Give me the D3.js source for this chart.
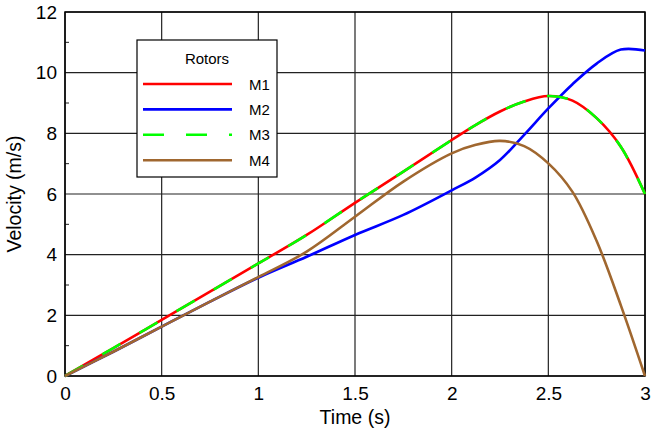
<!DOCTYPE html>
<html>
<head>
<meta charset="utf-8">
<script src="https://cdn.jsdelivr.net/npm/d3@7"></script>
<style>
  body { margin: 0; background: #fff; }
  text { font-family: Arial, "Liberation Sans", sans-serif; }
</style>
</head>
<body>
<script>
// time points (s)
const time = [0, 0.25, 0.5, 0.75, 1, 1.25, 1.5, 1.75, 2, 2.125, 2.25, 2.375, 2.5, 2.625, 2.75, 2.875, 3];

// velocity per rotor (m/s)
const m1 = [0, 0.92, 1.85, 2.78, 3.71, 4.65, 5.71, 6.74, 7.78, 8.28, 8.72, 9.05, 9.23, 9.08, 8.50, 7.56, 6.0];
const m2 = [0, 0.80, 1.63, 2.45, 3.24, 3.93, 4.65, 5.31, 6.12, 6.55, 7.12, 7.95, 8.82, 9.62, 10.3, 10.76, 10.73];
const m3 = m1.slice(); // same values as M1, drawn dashed on top
const m4 = [0, 0.80, 1.63, 2.45, 3.26, 4.10, 5.25, 6.41, 7.34, 7.62, 7.75, 7.58, 7.01, 6.07, 4.45, 2.33, 0];

const seriesNames = ["M1", "M2", "M3", "M4"];
const colors = ["#ff0000", "#0000ff", "#00ff00", "#a0672f"];

const xTicks = [0, 0.5, 1, 1.5, 2, 2.5, 3];
const yTicks = [0, 2, 4, 6, 8, 10, 12];
const yMinor = [1, 3, 5, 7, 9, 11];

const margin = { top: 12, right: 6, bottom: 56, left: 65 };
const width = 651 - margin.left - margin.right;
const height = 432 - margin.top - margin.bottom;

const xScale = d3.scaleLinear().domain([0, 3]).range([0, width]);
const yScale = d3.scaleLinear().domain([0, 12]).range([height, 0]);

const svg = d3.select("body")
  .append("svg")
    .attr("width", 651)
    .attr("height", 432)
  .append("g")
    .attr("transform", `translate(${margin.left}, ${margin.top})`);

// grid
svg.append("g")
  .selectAll("line")
  .data(xTicks)
  .enter().append("line")
    .attr("x1", d => xScale(d)).attr("x2", d => xScale(d))
    .attr("y1", 0).attr("y2", height)
    .attr("stroke", "#222").attr("stroke-width", 1.2);

svg.append("g")
  .selectAll("line")
  .data(yTicks)
  .enter().append("line")
    .attr("x1", 0).attr("x2", width)
    .attr("y1", d => yScale(d)).attr("y2", d => yScale(d))
    .attr("stroke", "#222").attr("stroke-width", 1.2);

// minor ticks on y axis
svg.append("g")
  .selectAll("line")
  .data(yMinor)
  .enter().append("line")
    .attr("x1", 0).attr("x2", 4)
    .attr("y1", d => yScale(d)).attr("y2", d => yScale(d))
    .attr("stroke", "#222").attr("stroke-width", 1);

// axes labels (no domain lines, frame drawn below)
const xAxis = svg.append("g")
  .attr("transform", `translate(0, ${height})`)
  .call(d3.axisBottom(xScale).tickValues(xTicks).tickSize(0).tickPadding(11).tickFormat(d3.format("")));
const yAxis = svg.append("g")
  .call(d3.axisLeft(yScale).tickValues(yTicks).tickSize(0).tickPadding(8));
[xAxis, yAxis].forEach(a => {
  a.select(".domain").remove();
  a.selectAll("text").attr("font-size", 19).attr("fill", "#000")
    .attr("font-family", "Arial, 'Liberation Sans', sans-serif");
});

// frame
svg.append("rect")
  .attr("width", width).attr("height", height)
  .attr("fill", "none").attr("stroke", "#000").attr("stroke-width", 1.5);

// lines
const line = d3.line()
  .x((d, i) => xScale(time[i]))
  .y(d => yScale(d))
  .curve(d3.curveCatmullRom.alpha(0.5));

const allSeries = [m1, m2, m3, m4];
allSeries.forEach((s, k) => {
  svg.append("path")
    .datum(s)
    .attr("fill", "none")
    .attr("stroke", colors[k])
    .attr("stroke-width", 2.6)
    .attr("stroke-dasharray", k === 2 ? "21,22" : null)
    .attr("d", line);
});

// axis titles
svg.append("text")
  .attr("x", width / 2).attr("y", height + 48)
  .attr("text-anchor", "middle").attr("font-size", 19.5)
  .text("Time (s)");

svg.append("text")
  .attr("transform", `translate(${-44}, ${height / 2}) rotate(-90)`)
  .attr("text-anchor", "middle").attr("font-size", 19.5)
  .text("Velocity (m/s)");

// legend
const legend = svg.append("g").attr("transform", `translate(${137 - margin.left}, ${40 - margin.top})`);
legend.append("rect")
  .attr("width", 140).attr("height", 137)
  .attr("fill", "#fff").attr("stroke", "#000").attr("stroke-width", 1.2);
legend.append("text")
  .attr("x", 70).attr("y", 24)
  .attr("text-anchor", "middle").attr("font-size", 15)
  .text("Rotors");

const item = legend.selectAll("g.item")
  .data(seriesNames)
  .enter().append("g")
    .attr("transform", (d, i) => `translate(0, ${44 + i * 25.4})`);
item.append("line")
  .attr("x1", 6).attr("x2", 95)
  .attr("stroke", (d, i) => colors[i])
  .attr("stroke-width", 2.6)
  .attr("stroke-dasharray", (d, i) => i === 2 ? "21,22" : null);
item.append("text")
  .attr("x", 112).attr("y", 5.5)
  .attr("font-size", 15)
  .text(d => d);
</script>
</body>
</html>
